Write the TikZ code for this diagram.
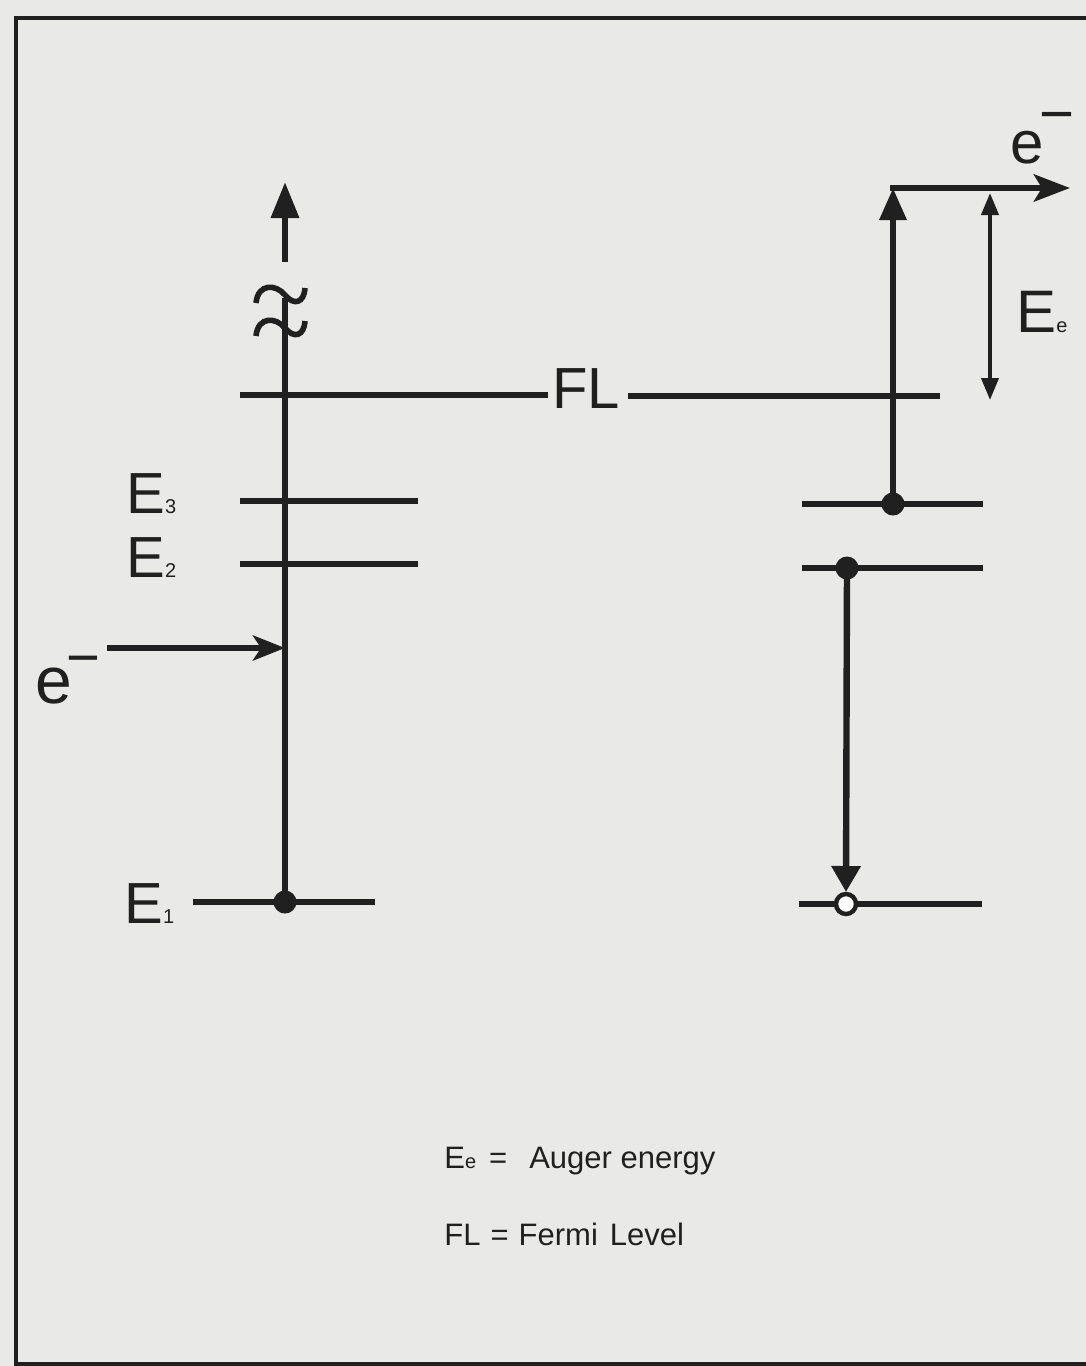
\documentclass[tikz,border=0pt]{standalone}
\usepackage{fontspec}
\setmainfont{Liberation Sans}
\usepackage{tikz}
\usetikzlibrary{arrows.meta, calc}
\definecolor{scanpaper}{RGB}{233, 233, 231}
\definecolor{scanink}{RGB}{32, 32, 32}
\newcommand{\lvlsub}[1]{{\fontsize{10}{10}\selectfont #1}}

\tikzset{
  frame/.style={draw=scanink, line width=2pt},
  level/.style={draw=scanink, line width=3.2pt},
  transition/.style={draw=scanink, line width=3.2pt},
  ruler/.style={draw=scanink, line width=2pt,
    {Triangle[length=11pt,width=8.5pt]}-{Triangle[length=11pt,width=8.5pt]}},
  filldot/.style={circle, fill=scanink, inner sep=0pt, minimum size=11.5pt},
  holedot/.style={circle, draw=scanink, line width=2.2pt, fill=white, inner sep=0pt, minimum size=10pt},
  biglabel/.style={font=\fontsize{29}{29}\selectfont, inner sep=0pt, text=scanink},
  legend/.style={font=\fontsize{15.5}{15.5}\selectfont, inner sep=0pt, text=scanink, anchor=base west}
}

\begin{document}
\begin{tikzpicture}[x=0.5pt, y=-0.5pt]
  \useasboundingbox[fill=scanpaper] (0,0) rectangle (1086,1366);
  \draw[frame] (1086,18) -- (16,18) -- (16,1364) -- (1086,1364);

  % left column
  \coordinate (k1) at (285,902);
  \coordinate (brk) at (285,298);
  \coordinate (axgap) at (285,262);
  \coordinate (axtop) at (285,182);
  \coordinate (ein) at (107,648);
  \coordinate (ehit) at (285,648);
  % right column
  \coordinate (l3) at (893,504);
  \coordinate (l2) at (847,568);
  \coordinate (k1r) at (846,904);
  \coordinate (corner) at (893,188);
  \coordinate (eout) at (1070,188);
  \coordinate (eetop) at (990,193);
  \coordinate (eebot) at (990,400);
  \coordinate (flL) at (240,395);
  \coordinate (flR) at (940,396);

  \draw[level] (240,501) -- (418,501);
  \draw[level] (240,564) -- (418,564);
  \draw[level] (193,902) -- (375,902);
  \draw[level] (802,504) -- (983,504);
  \draw[level] (802,568) -- (983,568);
  \draw[level] (799,904) -- (982,904);

  \node[biglabel, anchor=base, inner xsep=2pt] (FL) at (586,408) {FL};
  \draw[level] (flL) -- (flL -| FL.west);
  \draw[level] ([xshift=2pt]flR -| FL.east) -- (flR);

  \draw[transition] (k1) -- (brk);
  \foreach \dy in {0,33}
    \draw[transition, line width=2.8pt] (256,303+\dy) .. controls (258,283+\dy) and (276,284+\dy) .. (285,295+\dy)
      .. controls (294,306+\dy) and (304,303+\dy) .. (305,288+\dy);
  \draw[transition, -{Triangle[length=18pt,width=13.5pt]}] (axgap) -- (axtop);
  \draw[transition, -{Stealth[length=16pt,width=12.5pt,inset=4pt]}] (ein) -- (ehit);

  \draw[transition, -{Triangle[length=16pt,width=13pt]}] (l3) -- (corner);
  \draw[transition, -{Stealth[length=18pt,width=13.5pt,inset=4pt]}] ([xshift=-1.6pt]corner) -- (eout);
  \draw[ruler] (eetop) -- (eebot);
  \draw[transition, -{Triangle[length=13pt,width=14pt]}] (l2) -- ([yshift=6pt]k1r);

  \node[filldot] (k1dot) at (k1) {};
  \node[filldot] (l3dot) at (l3) {};
  \node[filldot] (l2dot) at (l2) {};
  \node[holedot] (k1hole) at (k1r) {};

  \node[biglabel, anchor=base west] (labE3) at (126,513) {E\lvlsub{3}};
  \node[biglabel, anchor=base west] (labE2) at (126,577) {E\lvlsub{2}};
  \node[biglabel, anchor=base west] (labE1) at (124,923) {E\lvlsub{1}};
  \node[biglabel, anchor=base west, font=\fontsize{33}{33}\selectfont] (labein) at (35,703) {e\kern-3pt\raisebox{0.38em}{\fontsize{29}{29}\selectfont −}};
  \node[biglabel, anchor=base west, font=\fontsize{30}{30}\selectfont] (labeout) at (1010,163) {e\kern-2pt\raisebox{0.48em}{−}};
  \node[biglabel, anchor=base west, font=\fontsize{30}{30}\selectfont] (labEe) at (1016,332) {E{\fontsize{10}{10}\selectfont e}};

  \node[legend] (legEe) at (444,1168) {E{\fontsize{10}{10}\selectfont e}\hspace{6.5pt}=\hspace{11pt}Auger energy};
  \node[legend] (legFL) at (444,1245) {FL\hspace{5pt}=\hspace{5pt}Fermi\hspace{6pt}Level};
\end{tikzpicture}
\end{document}
